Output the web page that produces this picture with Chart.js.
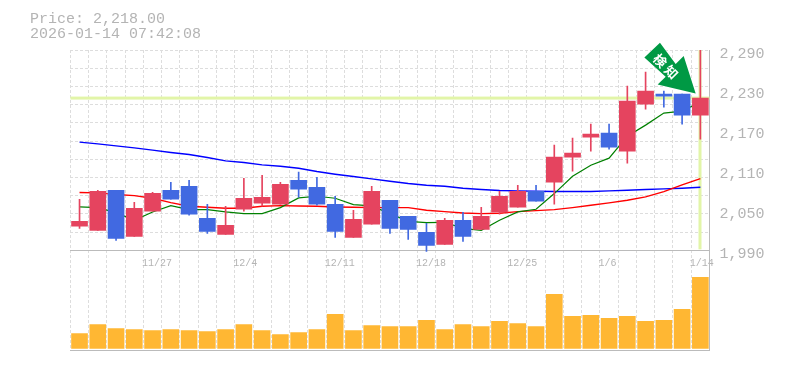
<!DOCTYPE html>
<html>
<head>
<meta charset="utf-8">
<title>Price chart</title>
<script src="https://cdn.jsdelivr.net/npm/chart.js@4"></script>
<style>
  html, body { margin: 0; padding: 0; background: #fff; }
  #chart { display: block; }
</style>
</head>
<body>
<canvas id="chart" width="785" height="370"></canvas>
<script>
const dates = ["11/20","11/21","11/25","11/26","11/27","11/28","12/1","12/2","12/3","12/4","12/5","12/8","12/9","12/10","12/11","12/12","12/15","12/16","12/17","12/18","12/19","12/22","12/23","12/24","12/25","12/26","12/29","12/30","1/5","1/6","1/7","1/8","1/9","1/13","1/14"];
const labelledDates = ["11/27","12/4","12/11","12/18","12/25","1/6","1/14"];
const priceTicks = [1990, 2050, 2110, 2170, 2230, 2290];

const opens  = [2026,2020,2080,2011,2048.5,2080,2086,2038,2014,2051.5,2060.5,2059,2095,2084.5,2059,2009.5,2029,2065,2041,2017,1999,2035,2021.5,2047,2054.5,2078.5,2092,2129.5,2159.5,2165.5,2138.5,2209,2224,2224,2192.5];
const closes = [2033.5,2078.5,2008,2053,2075.5,2066.5,2044,2018.5,2027.5,2068,2069.5,2089,2081.5,2059,2018.5,2036.5,2078.5,2023,2021.5,1997.5,2035,2011,2041,2071,2078.5,2063.5,2129.5,2135.5,2164,2144.5,2213.5,2228.5,2221,2192.5,2218];
const highs  = [2066.5,2080,2080,2062,2077,2092,2095,2059,2056,2098,2102.5,2092,2107,2099.5,2071,2050,2086,2065,2041,2030.5,2038,2047,2054.5,2078.5,2087.5,2087.5,2147.5,2158,2179,2179,2236,2257,2228.5,2224,2295];
const lows   = [2023,2020,2005,2011,2048.5,2066.5,2042.5,2015.5,2014,2048.5,2056,2059,2069.5,2057.5,2009.5,2009.5,2029,2015.5,2006.5,1988.5,1999,2003.5,2021.5,2044,2054.5,2063.5,2059,2108.5,2138.5,2141.5,2120.5,2201.5,2204.5,2179,2156.5];

const ma5  = [2055,2054,2046.5,2035,2047.5,2057,2051,2051,2047.5,2045,2045,2054,2068.5,2071,2068,2058.5,2056.5,2045,2033.5,2031.5,2032,2023,2020,2035,2047.5,2051.5,2075,2101,2117.5,2128,2161,2177.5,2195.5,2198.5,2212];
const ma25 = [2076.5,2076,2073.5,2072,2068,2061.5,2056,2054.5,2053,2053,2056,2057,2056.5,2056,2055,2054.5,2054,2054,2054,2050,2048,2046,2045,2045.5,2048,2049.5,2051,2054,2057.5,2061,2065,2070,2078,2088,2097.5];
const ma75 = [2152,2149.5,2146.5,2143.5,2140,2136.5,2133.5,2129,2124,2121.5,2118,2116,2113,2108,2104,2100.5,2097,2093.5,2090,2087.5,2086,2083,2081,2079.5,2079,2078.5,2078,2078,2078,2079,2080,2081,2082,2083,2084.5];

// volume, 10k shares
const volumes = [15,24,20,19,18,19,18,17,19,24,18,14,16,19,34,18,23,22,22,28,19,24,22,27,25,22,54,32,33,30,32,27,28,39,71];

const lastPrice = 2218;
const titleLines = ["Price: 2,218.00", "2026-01-14 07:42:08"];
const badgeText = ["検", "知"];

const RED = "#e5445f", BLUE = "#4169e1", GRID = "#dddddd", AXIS = "#bbbbbb", TEXT = "#b4b4b4";
const MONO = '"Liberation Mono", monospace';
const DASH = [3, 2];

const last = dates.length - 1;

// price and volume share one plot: price on top, volume on the bottom third
const overlays = {
  id: "overlays",
  beforeDatasetsDraw(chart) {
    const { ctx, chartArea, scales } = chart;
    const px = scales.x.getPixelForValue(last);
    const py = scales.y.getPixelForValue(lastPrice);
    const floor = scales.y.getPixelForValue(priceTicks[0]);
    ctx.save();
    ctx.fillStyle = "#e2f5a8";
    ctx.fillRect(chartArea.left, py - 1.5, chartArea.width, 3);
    ctx.fillRect(Math.round(px) - 1.5, chartArea.top, 3, floor - chartArea.top - 1);
    ctx.restore();
  },
  afterDraw(chart) {
    const { ctx, scales } = chart;
    const px = scales.x.getPixelForValue(last);
    const py = scales.y.getPixelForValue(lastPrice);
    // arrow badge pointing at the last candle
    ctx.save();
    ctx.translate(px - 4.7, py - 4.7);
    ctx.beginPath();
    ctx.moveTo(0, 0);
    ctx.lineTo(-38, -9);
    ctx.lineTo(-30, -16.7);
    ctx.lineTo(-51.3, -36);
    ctx.lineTo(-35.7, -50.7);
    ctx.lineTo(-20, -29.3);
    ctx.lineTo(-12, -37.3);
    ctx.closePath();
    ctx.strokeStyle = "#ffffff";
    ctx.lineWidth = 1;
    ctx.stroke();
    ctx.fillStyle = "#009944";
    ctx.fill();
    ctx.fillStyle = "#ffffff";
    ctx.font = 'bold 13px "Noto Sans CJK JP"';
    ctx.textAlign = "center";
    ctx.textBaseline = "middle";
    ctx.translate(-30, -27);
    ctx.rotate(Math.PI / 4);
    ctx.fillText(badgeText[0], -8, 0);
    ctx.fillText(badgeText[1], 8, 0);
    ctx.restore();

    ctx.save();
    ctx.fillStyle = TEXT;
    ctx.font = "15px " + MONO;
    ctx.textBaseline = "alphabetic";
    ctx.fillText(titleLines[0], 30, 23);
    ctx.fillText(titleLines[1], 30, 38);
    ctx.restore();
  }
};

new Chart(document.getElementById("chart"), {
  data: {
    labels: dates,
    datasets: [
      { type: "bar", label: "Body", yAxisID: "y", order: 1, grouped: false, barThickness: 16,
        data: opens.map((o, i) => [o, closes[i]]),
        backgroundColor: opens.map((o, i) => closes[i] >= o ? RED : BLUE) },
      { type: "bar", label: "Wick", yAxisID: "y", order: 2, grouped: false, barThickness: 1,
        data: lows.map((l, i) => [l, highs[i]]),
        backgroundColor: opens.map((o, i) => closes[i] >= o ? RED : BLUE) },
      { type: "line", label: "MA5", yAxisID: "y", order: 3, data: ma5, borderColor: "#008000", borderWidth: 1.2, pointRadius: 0, tension: 0 },
      { type: "line", label: "MA25", yAxisID: "y", order: 4, data: ma25, borderColor: "#ff0000", borderWidth: 1.4, pointRadius: 0, tension: 0 },
      { type: "line", label: "MA75", yAxisID: "y", order: 5, data: ma75, borderColor: "#0000ff", borderWidth: 1.4, pointRadius: 0, tension: 0 },
      { type: "bar", label: "Volume", yAxisID: "v", order: 6, grouped: false, barThickness: 16,
        data: volumes, backgroundColor: "#ffb733" }
    ]
  },
  options: {
    responsive: false,
    animation: false,
    layout: { padding: { left: 70.4, top: 50, bottom: 19.5, right: 0 } },
    plugins: { legend: { display: false }, tooltip: { enabled: false } },
    scales: {
      x: {
        type: "category",
        position: { y: priceTicks[0] },
        offset: true,
        grid: { offset: true, color: GRID, drawTicks: false, tickLength: 0 },
        border: { color: AXIS, dash: DASH },
        ticks: {
          autoSkip: false, maxRotation: 0, minRotation: 0, align: "start", labelOffset: -10.5, padding: 7,
          color: TEXT, font: { family: MONO, size: 10 },
          callback(value) {
            const d = this.getLabelForValue(value);
            return labelledDates.includes(d) ? d : "";
          }
        }
      },
      // bottom frame line only
      x2: {
        type: "category", position: "bottom", offset: true,
        grid: { display: false },
        border: { color: AXIS },
        ticks: { display: false },
        afterFit(scale) { scale.height = 0; }
      },
      y: {
        position: "right", min: 1840, max: 2290,
        grid: { display: false },
        border: { color: AXIS },
        ticks: { color: TEXT, font: { family: MONO, size: 15 }, padding: 2, labelOffset: 4,
          callback(v) { return v.toLocaleString("en-US"); } },
        afterBuildTicks(scale) { scale.ticks = priceTicks.map(value => ({ value })); },
        afterFit(scale) { scale.width = 75.5; }
      },
      v: {
        position: "right", display: false, min: -2, max: 298
      },
      // horizontal dashed grid of the price panel, 11 rows
      g: {
        position: "left", min: 0, max: 16.5, reverse: true,
        grid: { color: GRID, drawTicks: false, tickLength: 0 },
        border: { display: false, dash: DASH },
        ticks: { display: false },
        afterBuildTicks(scale) {
          scale.ticks = [0,1,2,3,4,5,6,7,8,9,10].map(value => ({ value }));
        },
        afterFit(scale) { scale.width = 0; }
      }
    }
  },
  plugins: [overlays]
});
</script>
</body>
</html>
